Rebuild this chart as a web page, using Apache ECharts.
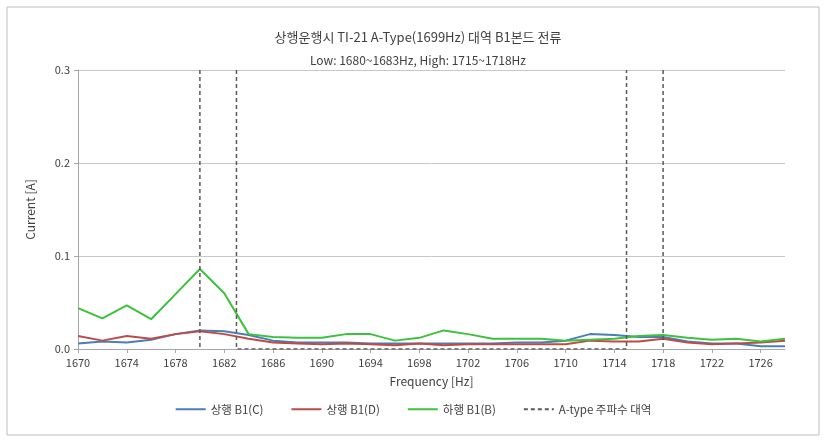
<!DOCTYPE html>
<html>
<head>
<meta charset="utf-8">
<script src="https://cdn.jsdelivr.net/npm/echarts@6/dist/echarts.min.js"></script>
<style>html,body{margin:0;padding:0;background:#fff}#c{width:827px;height:442px}</style>
</head>
<body>
<div id="c"></div>
<script>
var titleText = '상행운행시 TI-21 A-Type(1699Hz) 대역 B1본드 전류';
var subText = 'Low: 1680~1683Hz, High: 1715~1718Hz';
var xName = 'Frequency [Hz]';
var yName = 'Current [A]';
var seriesNames = ['상행 B1(C)', '상행 B1(D)', '하행 B1(B)', 'A-type 주파수 대역'];

var freqs = [1670,1672,1674,1676,1678,1680,1682,1684,1686,1688,1690,1692,1694,1696,1698,1700,1702,1704,1706,1708,1710,1712,1714,1716,1718,1720,1722,1724,1726,1728];
var upC = [0.006,0.008,0.007,0.010,0.016,0.020,0.019,0.015,0.009,0.007,0.007,0.007,0.006,0.006,0.006,0.006,0.006,0.006,0.007,0.007,0.009,0.016,0.015,0.013,0.013,0.008,0.006,0.006,0.003,0.003];
var upD = [0.014,0.009,0.014,0.011,0.016,0.019,0.016,0.011,0.007,0.006,0.005,0.006,0.005,0.004,0.006,0.004,0.005,0.005,0.005,0.005,0.005,0.009,0.008,0.008,0.011,0.007,0.005,0.006,0.007,0.009];
var downB = [0.044,0.033,0.047,0.032,0.059,0.086,0.060,0.016,0.013,0.012,0.012,0.016,0.016,0.009,0.012,0.020,0.016,0.011,0.011,0.011,0.009,0.010,0.011,0.014,0.015,0.012,0.010,0.011,0.008,0.011];

// A-type band boundaries
var bandLow = [1680, 1683];
var bandHigh = [1715, 1718];
var bandTop = 0.3;

var categories = [];
for (var f = 1670; f <= 1728; f++) categories.push(String(f));

function pairs(vals) {
  return freqs.map(function (f, i) { return [String(f), vals[i]]; });
}

var solidIcon = 'path://M0,0H30V2H0Z';
var dashIcon = 'path://M0,0H4V2H0Z M7,0H11V2H7Z M14,0H18V2H14Z M21,0H25V2H21Z M28,0H30V2H28Z';

var dashStyle = { color: '#595959', width: 1.5, type: [4, 3] };
var chart = echarts.init(document.getElementById('c'));
var font = '"Noto Sans CJK KR", "Noto Sans", sans-serif';

chart.setOption({
  animation: false,
  textStyle: { fontFamily: font },
  graphic: [{
    type: 'rect', shape: { x: 7, y: 7, width: 812, height: 428 },
    style: { fill: 'none', stroke: '#bfbfbf', lineWidth: 1 }, silent: true, z: -1
  }],
  title: [
    { text: titleText, left: 413, top: 26, textAlign: 'center',
      textStyle: { fontSize: 13, fontWeight: 'normal', color: '#404040', fontFamily: font } },
    { text: subText, left: 413, top: 49, textAlign: 'center',
      textStyle: { fontSize: 12, fontWeight: 'normal', color: '#404040', fontFamily: font } }
  ],
  legend: {
    bottom: 22, left: 'center', itemWidth: 30, itemHeight: 2, itemGap: 28,
    textStyle: { fontSize: 11.5, color: '#404040', fontFamily: font },
    data: [
      { name: seriesNames[0], icon: solidIcon, itemStyle: { color: '#4a7ebb' } },
      { name: seriesNames[1], icon: solidIcon, itemStyle: { color: '#be4b48' } },
      { name: seriesNames[2], icon: solidIcon, itemStyle: { color: '#3cc23c' } },
      { name: seriesNames[3], icon: dashIcon, itemStyle: { color: '#595959' } }
    ]
  },
  grid: { left: 78, right: 42, top: 70, bottom: 93 },
  xAxis: {
    type: 'category', data: categories, boundaryGap: false,
    name: xName, nameLocation: 'middle', nameGap: 26,
    nameTextStyle: { fontSize: 12, color: '#404040', fontFamily: font },
    axisLine: { lineStyle: { color: '#a6a6a6' } },
    axisTick: { interval: 3, length: 4, lineStyle: { color: '#a6a6a6' } },
    axisLabel: { interval: 3, fontSize: 11, color: '#404040', margin: 8 },
    splitLine: { show: false }
  },
  yAxis: {
    type: 'value', min: 0, max: 0.3, interval: 0.1,
    name: yName, nameLocation: 'middle', nameGap: 42,
    nameTextStyle: { fontSize: 12, color: '#404040', fontFamily: font },
    axisLine: { show: true, lineStyle: { color: '#a6a6a6' } },
    axisTick: { show: true, length: 4, lineStyle: { color: '#a6a6a6' } },
    axisLabel: { fontSize: 11, color: '#404040', formatter: function (v) { return v.toFixed(1); } },
    splitLine: { lineStyle: { color: '#c8c8c8' } }
  },
  series: [
    { name: seriesNames[0], type: 'line', symbol: 'none', data: pairs(upC),
      lineStyle: { color: '#4a7ebb', width: 2 }, itemStyle: { color: '#4a7ebb' }, z: 3 },
    { name: seriesNames[1], type: 'line', symbol: 'none', data: pairs(upD),
      lineStyle: { color: '#be4b48', width: 2 }, itemStyle: { color: '#be4b48' }, z: 4 },
    { name: seriesNames[2], type: 'line', symbol: 'none', data: pairs(downB),
      lineStyle: { color: '#3cc23c', width: 2 }, itemStyle: { color: '#3cc23c' }, z: 5 },
    { name: seriesNames[3], type: 'line', symbol: 'none',
      data: [[String(bandLow[0]), bandTop], [String(bandLow[0]), 0]],
      lineStyle: dashStyle, itemStyle: { color: '#595959' }, z: 6 },
    { name: seriesNames[3], type: 'line', symbol: 'none',
      data: [[String(bandLow[1]), bandTop], [String(bandLow[1]), 0], [String(bandHigh[0]), 0], [String(bandHigh[0]), bandTop]],
      lineStyle: dashStyle, itemStyle: { color: '#595959' }, z: 6 },
    { name: seriesNames[3], type: 'line', symbol: 'none',
      data: [[String(bandHigh[1]), bandTop], [String(bandHigh[1]), 0]],
      lineStyle: dashStyle, itemStyle: { color: '#595959' }, z: 6 }
  ]
});
</script>
</body>
</html>
